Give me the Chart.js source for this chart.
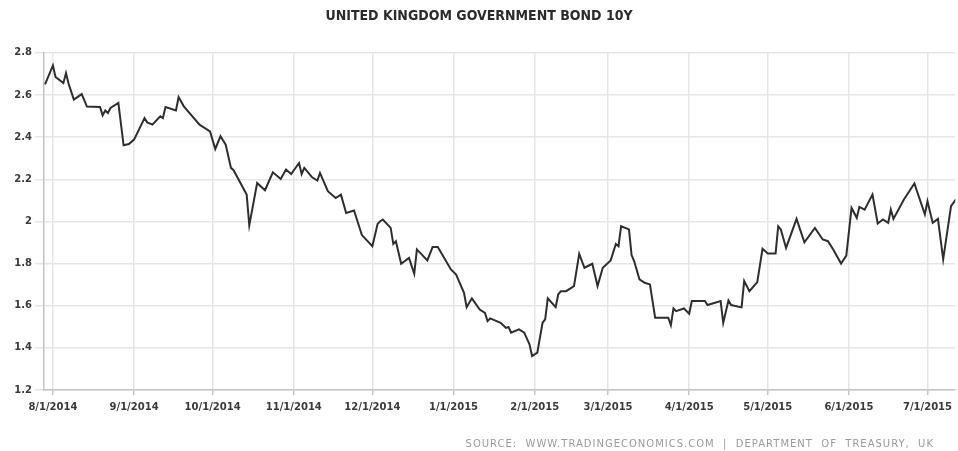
<!DOCTYPE html>
<html>
<head>
<meta charset="utf-8">
<script src="https://cdn.jsdelivr.net/npm/chart.js@4.4.1/dist/chart.umd.min.js"></script>
<style>
  html, body { margin: 0; padding: 0; background: #fff; }
  #wrap { position: relative; width: 958px; height: 451px; }
  #source { position: absolute; right: 24px; top: 438px; font: 10px "DejaVu Sans", sans-serif; color: #9a9a9a; letter-spacing: 1px; white-space: pre; }
</style>
</head>
<body>
<div id="wrap">
  <canvas id="c" width="958" height="451"></canvas>
  <div id="source">SOURCE:  WWW.TRADINGECONOMICS.COM  |  DEPARTMENT  OF  TREASURY,  UK</div>
</div>
<script>
const chartTitle = 'UNITED KINGDOM GOVERNMENT BOND 10Y';

const dates = [
  '2014-07-29','2014-08-01','2014-08-02','2014-08-05','2014-08-06','2014-08-07','2014-08-09','2014-08-12','2014-08-14','2014-08-19',
  '2014-08-20','2014-08-21','2014-08-22','2014-08-23','2014-08-26','2014-08-28','2014-08-30','2014-09-01','2014-09-05','2014-09-06',
  '2014-09-08','2014-09-11','2014-09-12','2014-09-13','2014-09-17','2014-09-18','2014-09-20','2014-09-26','2014-09-27','2014-09-30',
  '2014-10-02','2014-10-04','2014-10-06','2014-10-08','2014-10-09','2014-10-14','2014-10-15','2014-10-18','2014-10-21','2014-10-24',
  '2014-10-27','2014-10-29','2014-10-31','2014-11-03','2014-11-04','2014-11-05','2014-11-08','2014-11-10','2014-11-11','2014-11-14',
  '2014-11-17','2014-11-19','2014-11-21','2014-11-24','2014-11-27','2014-12-01','2014-12-03','2014-12-04','2014-12-05','2014-12-08',
  '2014-12-09','2014-12-10','2014-12-12','2014-12-15','2014-12-17','2014-12-18','2014-12-22','2014-12-24','2014-12-26','2014-12-31',
  '2015-01-02','2015-01-05','2015-01-06','2015-01-08','2015-01-11','2015-01-13','2015-01-14','2015-01-15','2015-01-19','2015-01-21',
  '2015-01-22','2015-01-23','2015-01-26','2015-01-28','2015-01-30','2015-01-31','2015-02-02','2015-02-04','2015-02-05','2015-02-06',
  '2015-02-09','2015-02-10','2015-02-11','2015-02-13','2015-02-16','2015-02-18','2015-02-20','2015-02-23','2015-02-25','2015-02-27',
  '2015-03-02','2015-03-04','2015-03-05','2015-03-06','2015-03-09','2015-03-10','2015-03-11','2015-03-13','2015-03-15','2015-03-17',
  '2015-03-19','2015-03-24','2015-03-25','2015-03-26','2015-03-27','2015-03-30','2015-04-01','2015-04-02','2015-04-07','2015-04-08',
  '2015-04-13','2015-04-14','2015-04-16','2015-04-17','2015-04-21','2015-04-22','2015-04-24','2015-04-27','2015-04-29','2015-05-01',
  '2015-05-04','2015-05-05','2015-05-06','2015-05-08','2015-05-12','2015-05-15','2015-05-19','2015-05-22','2015-05-24','2015-05-26',
  '2015-05-29','2015-05-31','2015-06-02','2015-06-04','2015-06-05','2015-06-07','2015-06-10','2015-06-12','2015-06-14','2015-06-16',
  '2015-06-17','2015-06-18','2015-06-22','2015-06-26','2015-06-30','2015-07-01','2015-07-03','2015-07-05','2015-07-07','2015-07-10',
  '2015-07-12'
];

const yields = [
  2.650,2.740,2.685,2.656,2.704,2.653,2.578,2.604,2.545,2.543,
  2.503,2.527,2.514,2.538,2.562,2.361,2.367,2.388,2.490,2.470,
  2.459,2.499,2.490,2.543,2.526,2.590,2.546,2.459,2.451,2.427,
  2.344,2.404,2.364,2.254,2.243,2.127,1.981,2.182,2.148,2.233,
  2.201,2.246,2.225,2.277,2.225,2.254,2.209,2.194,2.230,2.143,
  2.111,2.127,2.040,2.052,1.935,1.882,1.988,2.001,2.009,1.969,
  1.893,1.906,1.799,1.827,1.751,1.867,1.815,1.878,1.878,1.772,
  1.748,1.661,1.593,1.635,1.582,1.566,1.527,1.540,1.519,1.495,
  1.499,1.472,1.488,1.472,1.417,1.361,1.377,1.519,1.535,1.635,
  1.593,1.654,1.669,1.669,1.693,1.846,1.780,1.799,1.693,1.780,
  1.815,1.893,1.882,1.977,1.962,1.840,1.811,1.725,1.709,1.701,
  1.543,1.543,1.508,1.587,1.574,1.587,1.562,1.622,1.622,1.603,
  1.622,1.519,1.625,1.603,1.592,1.717,1.669,1.712,1.870,1.848,
  1.848,1.977,1.962,1.874,2.012,1.901,1.969,1.914,1.906,1.867,
  1.800,1.838,2.064,2.017,2.069,2.056,2.127,1.990,2.009,1.993,
  2.056,2.012,2.104,2.180,2.033,2.096,1.993,2.012,1.820,2.072,
  2.107
];

const monthTicks = [
  '2014-08-01','2014-09-01','2014-10-01','2014-11-01','2014-12-01','2015-01-01',
  '2015-02-01','2015-03-01','2015-04-01','2015-05-01','2015-06-01','2015-07-01'
];

const yMin = 1.2, yMax = 2.8, yStep = 0.2;

function toDay(s) {
  const p = s.split('-').map(Number);
  return Date.UTC(p[0], p[1] - 1, p[2]) / 864e5;
}
function fmtDay(v) {
  const d = new Date(Math.round(v) * 864e5);
  return (d.getUTCMonth() + 1) + '/' + d.getUTCDate() + '/' + d.getUTCFullYear();
}

const points = dates.map((d, i) => ({ x: toDay(d), y: yields[i] }));
const gridColor = '#e6e6e6';
const axisColor = '#c4c4c4';
const tickFont = { family: '"DejaVu Sans", Verdana, sans-serif', size: 10, weight: 'bold' };

new Chart(document.getElementById('c'), {
  type: 'line',
  data: {
    datasets: [{
      data: points,
      borderColor: '#2e2e2e',
      borderWidth: 2,
      pointRadius: 0,
      tension: 0,
      fill: false
    }]
  },
  options: {
    responsive: false,
    animation: false,
    devicePixelRatio: 1,
    layout: { padding: { left: 0, right: 0, top: 0, bottom: 31 } },
    plugins: {
      legend: { display: false },
      tooltip: { enabled: false },
      title: {
        display: true,
        text: chartTitle,
        color: '#2b2b2b',
        font: { family: '"DejaVu Sans Condensed", "Liberation Sans Narrow", "DejaVu Sans", sans-serif', size: 14, weight: 'bold' },
        padding: { top: 8, bottom: 28 }
      }
    },
    scales: {
      x: {
        type: 'linear',
        min: toDay(monthTicks[0]) - 3.4,
        max: toDay(monthTicks[monthTicks.length - 1]) + 10.6,
        afterBuildTicks: s => { s.ticks = monthTicks.map(m => ({ value: toDay(m) })); },
        afterFit: s => { s.height = 30; },
        grid: { color: gridColor, lineWidth: 1.5, tickLength: 5, tickColor: axisColor },
        border: { display: true, color: axisColor, width: 1.5 },
        ticks: {
          autoSkip: false,
          maxRotation: 0,
          padding: 6,
          color: '#3a3a3a',
          font: tickFont,
          callback: v => fmtDay(v)
        }
      },
      y: {
        min: yMin,
        max: yMax,
        afterFit: s => { s.width = 44; },
        grid: { color: gridColor, lineWidth: 1.5, tickLength: 9 },
        border: { display: true, color: axisColor, width: 1.5 },
        ticks: {
          stepSize: yStep,
          padding: 3,
          color: '#3a3a3a',
          font: tickFont,
          callback: v => String(Number(v.toFixed(1)))
        }
      }
    }
  }
});
</script>
</body>
</html>
